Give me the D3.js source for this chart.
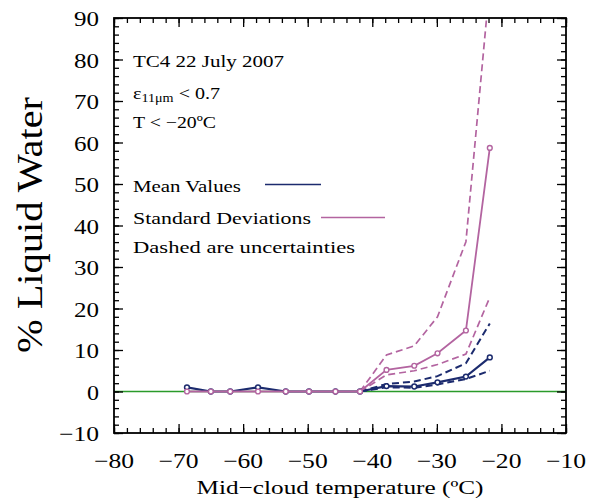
<!DOCTYPE html>
<html><head><meta charset="utf-8">
<script src="https://cdn.jsdelivr.net/npm/d3@7"></script>
<style>body{margin:0;background:#fff}svg{display:block}text{font-family:"Liberation Serif","DejaVu Serif",serif;fill:#000}</style>
</head><body>
<svg id="c" width="595" height="499"></svg>
<script>
// ---- data ----
const tempAll = [-68.7, -65.0, -62.0, -57.7, -53.4, -49.8, -45.7, -41.9, -37.8, -33.5, -29.9, -25.5, -21.8];
const meanVals = [1.0, 0, 0, 1.0, 0, 0, 0, 0, 1.3, 1.2, 2.2, 3.6, 8.2];
const stdVals  = [0, 0, 0, 0, 0, 0, 0, 0, 5.2, 6.2, 9.2, 14.7, 58.7];
const tempUnc = [-41.9, -37.8, -33.5, -29.9, -25.5, -21.8];
const meanUpper = [0, 1.8, 2.4, 3.7, 6.8, 16.4];
const meanLower = [0, 1.0, 0.9, 1.7, 3.0, 5.0];
const stdUpper  = [0, 8.8, 11.0, 18.0, 36.1, 98.4];
const stdLower  = [0, 4.0, 5.0, 6.5, 9.0, 22.7];
const xMajor = [-80, -70, -60, -50, -40, -30, -20, -10];
const yMajor = [-10, 0, 10, 20, 30, 40, 50, 60, 70, 80, 90];

const navy = "#1c2b6e", pink = "#b364a0", green = "#2a9a2a";
const svg = d3.select("#c");
const L = 114, R = 566, T = 18, B = 433;
const x = d3.scaleLinear().domain([-80, -10]).range([L, R]);
const y = d3.scaleLinear().domain([-10, 90]).range([B, T]);

svg.append("defs").append("clipPath").attr("id", "clip")
  .append("rect").attr("x", L).attr("y", T).attr("width", R - L).attr("height", B - T);

// zero line
svg.append("line").attr("x1", L).attr("x2", R).attr("y1", y(0)).attr("y2", y(0))
  .attr("stroke", green).attr("stroke-width", 1.3);

// axes ticks (inward, all four sides)
const xMinor = d3.range(-80, -9, 2), yMinor = d3.range(-10, 91, 2);
function ax(gen, scale, vals, size, tx, ty) {
  const a = gen(scale).tickValues(vals).tickSizeInner(-size).tickSizeOuter(0).tickFormat("");
  const g = svg.append("g").attr("transform", `translate(${tx},${ty})`).call(a);
  g.select(".domain").remove();
  g.selectAll("line").attr("stroke", "#000").attr("stroke-width", 1.3);
}
ax(d3.axisBottom, x, xMinor, 5, 0, B); ax(d3.axisBottom, x, xMajor, 9, 0, B);
ax(d3.axisTop, x, xMinor, 5, 0, T);    ax(d3.axisTop, x, xMajor, 9, 0, T);
ax(d3.axisLeft, y, yMinor, 5, L, 0);   ax(d3.axisLeft, y, yMajor, 9, L, 0);
ax(d3.axisRight, y, yMinor, 5, R, 0);  ax(d3.axisRight, y, yMajor, 9, R, 0);

svg.append("rect").attr("x", L).attr("y", T).attr("width", R - L).attr("height", B - T)
  .attr("fill", "none").attr("stroke", "#000").attr("stroke-width", 1.8);

// tick labels
const fmt = d3.format("d");
const labW = s => s.length === 1 ? 12 : (s.length === 2 ? 25 : 40);
svg.append("g").selectAll("text").data(xMajor).join("text")
  .attr("x", d => x(d)).attr("y", 468).attr("text-anchor", "middle")
  .attr("font-size", 21).attr("textLength", d => labW(fmt(d))).attr("lengthAdjust", "spacingAndGlyphs")
  .text(d => fmt(d));
svg.append("g").selectAll("text").data(yMajor).join("text")
  .attr("x", 99).attr("y", d => y(d) + 8).attr("text-anchor", "end")
  .attr("font-size", 21).attr("textLength", d => labW(fmt(d))).attr("lengthAdjust", "spacingAndGlyphs")
  .text(d => fmt(d));

// titles
svg.append("text").attr("x", 340).attr("y", 494).attr("text-anchor", "middle")
  .attr("font-size", 19).attr("textLength", 287).attr("lengthAdjust", "spacingAndGlyphs")
  .text("Mid\u2212cloud temperature (\u00baC)");
svg.append("text").attr("transform", "translate(42,225) rotate(-90)").attr("text-anchor", "middle")
  .attr("font-size", 35).attr("textLength", 256).attr("lengthAdjust", "spacingAndGlyphs")
  .text("% Liquid Water");

// data lines
const plot = svg.append("g").attr("clip-path", "url(#clip)");
const line = d3.line().x(d => x(d[0])).y(d => y(d[1]));
const zip = (a, b) => a.map((v, i) => [v, b[i]]);
const dash = "7,4";
plot.append("path").datum(zip(tempUnc, meanUpper)).attr("d", line).attr("fill", "none")
  .attr("stroke", navy).attr("stroke-width", 2).attr("stroke-dasharray", dash);
plot.append("path").datum(zip(tempUnc, meanLower)).attr("d", line).attr("fill", "none")
  .attr("stroke", navy).attr("stroke-width", 2).attr("stroke-dasharray", dash);
plot.append("path").datum(zip(tempUnc, stdUpper)).attr("d", line).attr("fill", "none")
  .attr("stroke", pink).attr("stroke-width", 1.7).attr("stroke-dasharray", dash);
plot.append("path").datum(zip(tempUnc, stdLower)).attr("d", line).attr("fill", "none")
  .attr("stroke", pink).attr("stroke-width", 1.7).attr("stroke-dasharray", dash);
plot.append("path").datum(zip(tempAll, meanVals)).attr("d", line).attr("fill", "none")
  .attr("stroke", navy).attr("stroke-width", 2.2);
plot.selectAll(".mc").data(zip(tempAll, meanVals)).join("circle").attr("class", "mc")
  .attr("cx", d => x(d[0])).attr("cy", d => y(d[1])).attr("r", 2.4)
  .attr("fill", "#fff").attr("stroke", navy).attr("stroke-width", 1.5);
plot.append("path").datum(zip(tempAll, stdVals)).attr("d", line).attr("fill", "none")
  .attr("stroke", pink).attr("stroke-width", 1.8);
plot.selectAll(".sc").data(zip(tempAll, stdVals)).join("circle").attr("class", "sc")
  .attr("cx", d => x(d[0])).attr("cy", d => y(d[1])).attr("r", 2.4)
  .attr("fill", "#fff").attr("stroke", pink).attr("stroke-width", 1.4);

// annotation / legend
const lx = 133, fs = 17;
function lt(yy, txt, len) {
  return svg.append("text").attr("x", lx).attr("y", yy).attr("font-size", fs)
    .attr("textLength", len).attr("lengthAdjust", "spacingAndGlyphs").text(txt);
}
lt(66.5, "TC4 22 July 2007", 151);
const e = svg.append("text").attr("x", lx).attr("y", 99).attr("font-size", fs)
  .attr("textLength", 87).attr("lengthAdjust", "spacingAndGlyphs");
e.append("tspan").text("\u03b5");
e.append("tspan").attr("font-size", 12).attr("dy", 3).text("11\u03bcm");
e.append("tspan").attr("dy", -3).text(" < 0.7");
lt(127.5, "T < \u221220\u00baC", 83);
lt(191.5, "Mean Values", 108);
svg.append("line").attr("x1", 265).attr("x2", 321).attr("y1", 184.5).attr("y2", 184.5)
  .attr("stroke", navy).attr("stroke-width", 1.3);
lt(224, "Standard Deviations", 178);
svg.append("line").attr("x1", 321).attr("x2", 385).attr("y1", 217.5).attr("y2", 217.5)
  .attr("stroke", pink).attr("stroke-width", 1.3);
lt(253, "Dashed are uncertainties", 222);
</script>
</body></html>
